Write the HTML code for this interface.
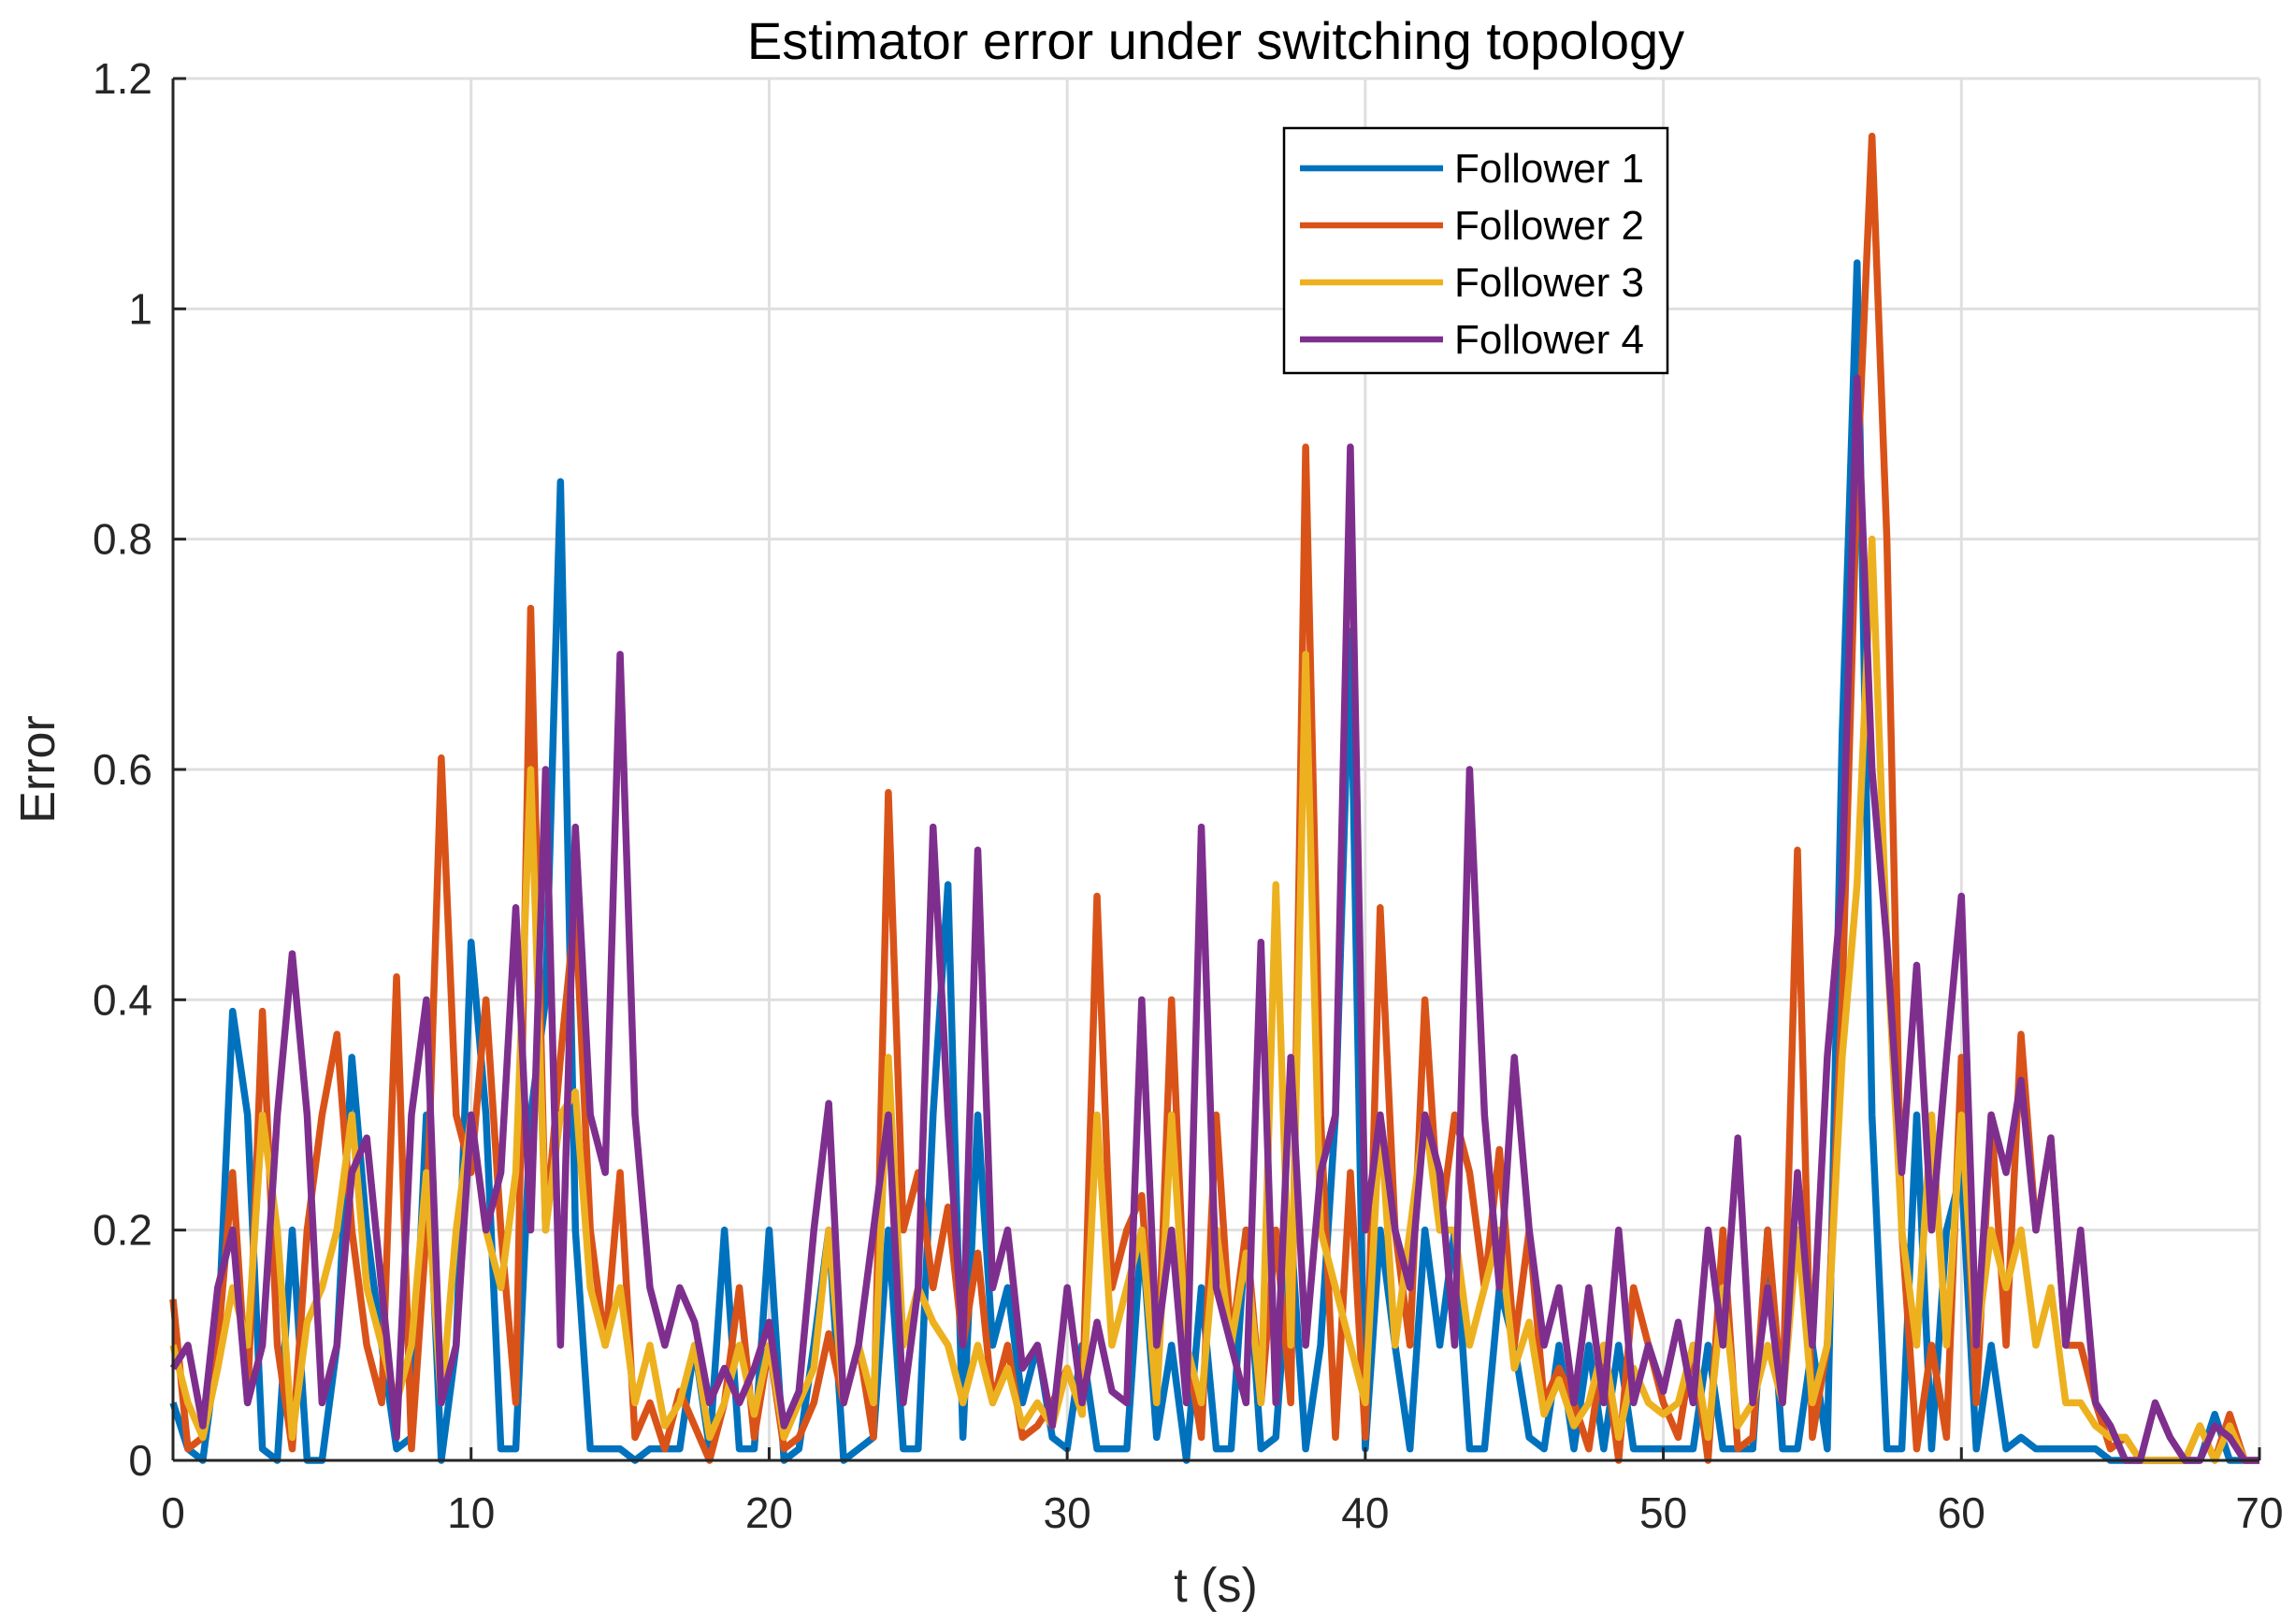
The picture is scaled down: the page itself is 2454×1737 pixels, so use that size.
<!DOCTYPE html>
<html><head><meta charset="utf-8"><style>
html,body{margin:0;padding:0;background:#fff;}
svg{display:block;font-family:"Liberation Sans",Arial,sans-serif;}
</style></head><body>
<svg id="chart" width="2454" height="1737" viewBox="0 0 2454 1737" xmlns="http://www.w3.org/2000/svg">
<rect x="0" y="0" width="2454" height="1737" fill="#fff"/>
<g id="grid"></g>
<g id="series"></g>
<g id="axes"></g>
<text x="1300" y="63" font-size="56" text-anchor="middle" fill="#000">Estimator error under switching topology</text>
<text x="1300" y="1713" font-size="52" text-anchor="middle" fill="#262626">t (s)</text>
<text transform="translate(58,823) rotate(-90)" font-size="52" text-anchor="middle" fill="#262626">Error</text>
<g id="legend"></g>
</svg>
<script>
const xTicks = [0,10,20,30,40,50,60,70];
const yTicks = [0,0.2,0.4,0.6,0.8,1,1.2];
const yTickLabels = ["0","0.2","0.4","0.6","0.8","1","1.2"];
const seriesNames = ["Follower 1","Follower 2","Follower 3","Follower 4"];
const seriesColors = ["#0072BD","#D95319","#EDB120","#7E2F8E"];
const f1 = [0.05,0.01,0.0,0.1,0.39,0.3,0.01,0.0,0.2,0.0,0.0,0.1,0.35,0.2,0.1,0.01,0.02,0.3,0.0,0.1,0.45,0.3,0.01,0.01,0.3,0.4,0.85,0.2,0.01,0.01,0.01,0.0,0.01,0.01,0.01,0.1,0.01,0.2,0.01,0.01,0.2,0.0,0.01,0.1,0.2,0.0,0.01,0.02,0.2,0.01,0.01,0.3,0.5,0.02,0.3,0.1,0.15,0.05,0.1,0.02,0.01,0.1,0.01,0.01,0.01,0.2,0.02,0.1,0.0,0.15,0.01,0.01,0.2,0.01,0.02,0.2,0.01,0.1,0.3,0.72,0.01,0.2,0.1,0.01,0.2,0.1,0.2,0.01,0.01,0.15,0.1,0.02,0.01,0.1,0.01,0.1,0.01,0.1,0.01,0.01,0.01,0.01,0.01,0.1,0.01,0.01,0.01,0.2,0.01,0.01,0.1,0.01,0.63,1.04,0.3,0.01,0.01,0.3,0.01,0.2,0.25,0.01,0.1,0.01,0.02,0.01,0.01,0.01,0.01,0.01,0.0,0.0,0.0,0.0,0.0,0.0,0.0,0.04,0.0,0.0,0.0];
const f2 = [0.14,0.01,0.02,0.1,0.25,0.05,0.39,0.1,0.01,0.2,0.3,0.37,0.2,0.1,0.05,0.42,0.01,0.2,0.61,0.3,0.25,0.4,0.2,0.05,0.74,0.2,0.35,0.48,0.2,0.1,0.25,0.02,0.05,0.01,0.06,0.03,0.0,0.05,0.15,0.02,0.1,0.01,0.02,0.05,0.11,0.05,0.1,0.02,0.58,0.2,0.25,0.15,0.22,0.1,0.18,0.05,0.1,0.02,0.03,0.05,0.08,0.04,0.49,0.15,0.2,0.23,0.05,0.4,0.1,0.02,0.3,0.1,0.2,0.05,0.2,0.05,0.88,0.3,0.02,0.25,0.02,0.48,0.2,0.1,0.4,0.2,0.3,0.25,0.15,0.27,0.1,0.2,0.05,0.08,0.05,0.01,0.1,0.0,0.15,0.1,0.05,0.02,0.1,0.0,0.2,0.01,0.02,0.2,0.05,0.53,0.02,0.1,0.4,0.85,1.15,0.8,0.2,0.01,0.1,0.02,0.35,0.05,0.3,0.1,0.37,0.2,0.28,0.1,0.1,0.05,0.01,0.02,0.0,0.0,0.0,0.0,0.03,0.0,0.04,0.0,0.0];
const f3 = [0.1,0.05,0.02,0.08,0.15,0.1,0.3,0.2,0.02,0.12,0.15,0.2,0.3,0.15,0.1,0.05,0.1,0.25,0.05,0.2,0.3,0.2,0.15,0.25,0.6,0.2,0.3,0.32,0.15,0.1,0.15,0.05,0.1,0.03,0.05,0.1,0.02,0.05,0.1,0.04,0.1,0.02,0.05,0.08,0.2,0.05,0.1,0.05,0.35,0.1,0.15,0.12,0.1,0.05,0.1,0.05,0.08,0.03,0.05,0.03,0.08,0.04,0.3,0.1,0.15,0.2,0.05,0.3,0.1,0.05,0.2,0.1,0.18,0.05,0.5,0.1,0.7,0.2,0.15,0.1,0.05,0.3,0.1,0.2,0.3,0.2,0.2,0.1,0.15,0.2,0.08,0.12,0.04,0.07,0.03,0.05,0.1,0.02,0.08,0.05,0.04,0.05,0.1,0.02,0.15,0.03,0.05,0.1,0.05,0.2,0.05,0.1,0.35,0.5,0.8,0.45,0.2,0.1,0.3,0.1,0.3,0.1,0.2,0.15,0.2,0.1,0.15,0.05,0.05,0.03,0.02,0.02,0.0,0.0,0.0,0.0,0.03,0.0,0.03,0.0,0.0];
const f4 = [0.08,0.1,0.03,0.15,0.2,0.05,0.1,0.3,0.44,0.3,0.05,0.1,0.25,0.28,0.15,0.02,0.3,0.4,0.05,0.1,0.3,0.2,0.25,0.48,0.2,0.6,0.1,0.55,0.3,0.25,0.7,0.3,0.15,0.1,0.15,0.12,0.05,0.08,0.05,0.08,0.12,0.03,0.06,0.2,0.31,0.05,0.1,0.2,0.3,0.05,0.15,0.55,0.3,0.1,0.53,0.15,0.2,0.08,0.1,0.03,0.15,0.05,0.12,0.06,0.05,0.4,0.1,0.2,0.05,0.55,0.15,0.1,0.05,0.45,0.05,0.35,0.1,0.25,0.3,0.88,0.2,0.3,0.2,0.15,0.3,0.25,0.1,0.6,0.3,0.15,0.35,0.2,0.1,0.15,0.05,0.15,0.05,0.2,0.05,0.1,0.06,0.12,0.05,0.2,0.1,0.28,0.05,0.15,0.05,0.25,0.1,0.35,0.5,0.94,0.6,0.45,0.25,0.43,0.2,0.35,0.49,0.1,0.3,0.25,0.33,0.2,0.28,0.1,0.2,0.05,0.03,0.0,0.0,0.05,0.02,0.0,0.0,0.03,0.02,0.0,0.0];
const seriesData = [f1,f2,f3,f4];

const L=185,R=2416,T=84,B=1562;
const xMin=0,xMax=70,yMin=0,yMax=1.2;
function xs(v){return L+(v-xMin)/(xMax-xMin)*(R-L);}
function ys(v){return B-(v-yMin)/(yMax-yMin)*(B-T);}
const NS="http://www.w3.org/2000/svg";
function mk(tag,attrs,parent){const e=document.createElementNS(NS,tag);for(const k in attrs)e.setAttribute(k,attrs[k]);parent.appendChild(e);return e;}

const grid=document.getElementById('grid');
xTicks.forEach(t=>{
  const l=mk('line',{x1:xs(t),x2:xs(t),y1:T,y2:B,stroke:'#dfdfdf','stroke-width':3},grid);
  
  
});
yTicks.forEach(t=>{
  const l=mk('line',{x1:L,x2:R,y1:ys(t),y2:ys(t),stroke:'#dfdfdf','stroke-width':3},grid);
  
  
});

const sg=document.getElementById('series');
seriesData.forEach((arr,si)=>{
  const n=arr.length;
  const pts=arr.map((v,i)=>xs(i*(xMax-xMin)/(n-1))+','+ys(v)).join(' ');
  const p=mk('polyline',{points:pts,fill:'none',stroke:seriesColors[si],'stroke-width':7.5,'stroke-linejoin':'round'},sg);
  
  
});

const ax=document.getElementById('axes');
const lb=mk('line',{x1:L,x2:R,y1:B,y2:B,stroke:'#262626','stroke-width':3},ax);


const ll=mk('line',{x1:L,x2:L,y1:T,y2:B,stroke:'#262626','stroke-width':3},ax);


xTicks.forEach(t=>{
  const k=mk('line',{x1:xs(t),x2:xs(t),y1:B,y2:B-14,stroke:'#262626','stroke-width':3},ax);
  
  
  const tx=mk('text',{x:xs(t),y:B+72,'font-size':46,'text-anchor':'middle',fill:'#262626'},ax);
  tx.textContent=String(t);
  
  
});
yTicks.forEach((t,i)=>{
  const k=mk('line',{x1:L,x2:L+14,y1:ys(t),y2:ys(t),stroke:'#262626','stroke-width':3},ax);
  
  
  const tx=mk('text',{x:L-22,y:ys(t)+16,'font-size':46,'text-anchor':'end',fill:'#262626'},ax);
  tx.textContent=yTickLabels[i];
  
  
});

const lg=document.getElementById('legend');
const box=mk('rect',{x:1373,y:137,width:410,height:262,fill:'#fff',stroke:'#000','stroke-width':2.5},lg);


seriesNames.forEach((nm,i)=>{
  const y=180+i*61;
  const l=mk('line',{x1:1390,x2:1543,y1:y,y2:y,stroke:seriesColors[i],'stroke-width':6.5},lg);
  
  
  const tx=mk('text',{x:1555,y:y+15,'font-size':44,fill:'#000'},lg);
  tx.textContent=nm;
  
  
});
</script>
</body></html>
